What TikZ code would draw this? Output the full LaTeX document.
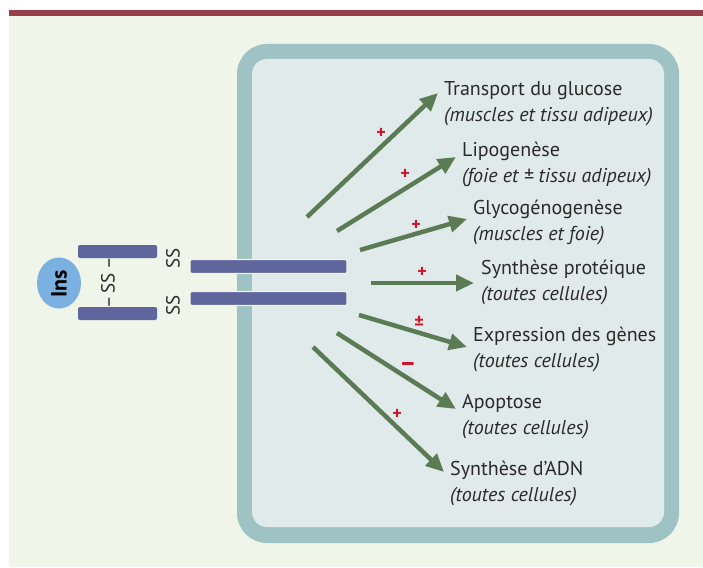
\documentclass[tikz,border=0pt]{standalone}
\usepackage{fontspec}
\setmainfont{PT Sans}
\usetikzlibrary{arrows.meta,shapes.geometric}
\definecolor{bgc}{HTML}{EFF5E8}
\definecolor{barc}{HTML}{983F4A}
\definecolor{cellb}{HTML}{9FC2C4}
\definecolor{celli}{HTML}{E0EAEA}
\definecolor{recc}{HTML}{5E669D}
\definecolor{insc}{HTML}{7BB1E0}
\definecolor{arrc}{HTML}{5B7B55}
\definecolor{redc}{HTML}{D0142C}
\definecolor{txtc}{HTML}{2A2A2A}
\tikzset{
  effect/.style={draw=arrc, line width=4.5pt, -{Triangle[length=18pt,width=16pt]}},
  lbl/.style={anchor=west, align=left, inner sep=0pt, text=txtc, font=\fontsize{20}{26}\selectfont},
  sign/.style={text=redc, inner sep=0pt, font=\fontsize{18}{18}\selectfont\bfseries},
  recbar/.style={fill=recc, draw=bgc, line width=1.2pt, rounded corners=2pt},
  ligbar/.style={fill=recc, rounded corners=2pt},
  sslbl/.style={rotate=90, inner sep=0pt, text=txtc, font=\fontsize{19}{19}\selectfont}
}
\begin{document}
\begin{tikzpicture}[x=1pt,y=-1pt]
\useasboundingbox (0,0) rectangle (703,567);
\fill[white] (0,0) rectangle (703,567);
\fill[bgc] (9,16) rectangle (703,567);
\fill[barc] (9,10.5) rectangle (703,16);
% cell
\fill[cellb, rounded corners=30pt] (237,44) rectangle (679,543);
\fill[celli, rounded corners=15pt] (252,59) rectangle (664,527);
% receptor
\node[recbar, minimum width=157pt, minimum height=14pt, inner sep=0pt] (r1) at (268.5,266.5) {};
\node[recbar, minimum width=157pt, minimum height=14pt, inner sep=0pt] (r2) at (268.5,298.5) {};
\node[sslbl] (ss1) at (173,258) {SS};
\node[sslbl] (ss2) at (173,305) {SS};
% insulin
\node[ligbar, minimum width=79pt, minimum height=13pt, inner sep=0pt] (l1) at (117.5,251.5) {};
\node[ligbar, minimum width=79pt, minimum height=13pt, inner sep=0pt] (l2) at (117.5,313.5) {};
\node[sslbl] (ssm) at (108,283) {–\,SS\,–};
\node[ellipse, fill=insc, minimum width=44pt, minimum height=51pt, inner sep=0pt] (ins) at (59,283) {};
\node[rotate=90, inner sep=0pt, font=\fontsize{22}{22}\selectfont\bfseries, text=black] (inst) at (59,284) {Ins};
% labels
\node[lbl] (t1) at (444,104) {Transport du glucose\\\itshape (muscles et tissu adipeux)};
\node[lbl] (t2) at (462,164) {Lipogenèse\\\itshape (foie et ± tissu adipeux)};
\node[lbl] (t3) at (473,222.5) {Glycogénogenèse\\\itshape (muscles et foie)};
\node[lbl] (t4) at (481,282.5) {Synthèse protéique\\\itshape (toutes cellules)};
\node[lbl] (t5) at (473,349.5) {Expression des gènes\\\itshape (toutes cellules)};
\node[lbl] (t6) at (462,417) {Apoptose\\\itshape (toutes cellules)};
\node[lbl] (t7) at (450,483.5) {Synthèse d’ADN\\\itshape (toutes cellules)};
% arrow ends
\coordinate (s1) at (307,217); \coordinate (e1) at (438,93);
\coordinate (s2) at (337,231); \coordinate (e2) at (456,157);
\coordinate (s3) at (360,250); \coordinate (e3) at (467,219);
\coordinate (s4) at (371,283); \coordinate (e4) at (474,283);
\coordinate (s5) at (359,315); \coordinate (e5) at (467,347);
\coordinate (s6) at (337,333); \coordinate (e6) at (456,409);
\coordinate (s7) at (313,347); \coordinate (e7) at (444,472);
\draw[effect] (s1) -- (e1);
\draw[effect] (s2) -- (e2);
\draw[effect] (s3) -- (e3);
\draw[effect] (s4) -- (e4);
\draw[effect] (s5) -- (e5);
\draw[effect] (s6) -- (e6);
\draw[effect] (s7) -- (e7);
% signs
\node[sign] (p1) at (381,133) {+};
\node[sign] (p2) at (405,174) {+};
\node[sign] (p3) at (416,225) {+};
\node[sign] (p4) at (422,272) {+};
\node[sign] (p5) at (419,322) {±};
\node[sign, font=\fontsize{26}{26}\selectfont\bfseries] (p6) at (408,367) {–};
\node[sign] (p7) at (397,414) {+};
\end{tikzpicture}
\end{document}
